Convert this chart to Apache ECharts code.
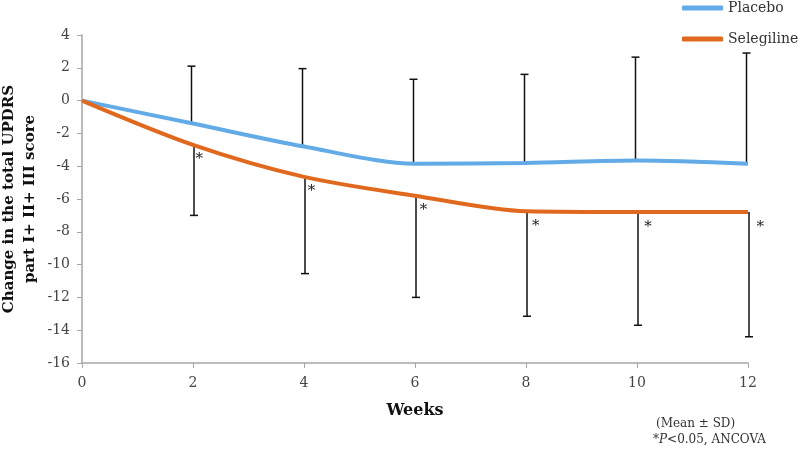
<!DOCTYPE html>
<html>
<head>
<meta charset="utf-8">
<script src="https://cdn.jsdelivr.net/npm/echarts@6/dist/echarts.min.js"></script>
<style>html,body{margin:0;padding:0;background:#fff}#c{width:800px;height:449px}</style>
</head>
<body>
<div id="c"></div>
<script>
const weeks = [0, 2, 4, 6, 8, 10, 12];
const placeboMean = [0, -1.4, -2.8, -3.85, -3.8, -3.65, -3.85];
const placeboSD = [0, 3.5, 4.75, 5.15, 5.4, 6.3, 6.75];
const selegilineMean = [0, -2.7, -4.65, -5.8, -6.75, -6.8, -6.8];
const selegilineSD = [0, 4.3, 5.9, 6.2, 6.4, 6.9, 7.6];
const significant = [false, true, true, true, true, true, true];
const seriesNames = ['Placebo', 'Selegiline'];
const colors = ['#62ABE6', '#E0691F'];
const FONT = '"DejaVu Serif", "Liberation Serif", serif';

const chart = echarts.init(document.getElementById('c'));

function errBar(meanArr, sdArr, dir, dx) {
  return {
    type: 'custom',
    silent: true,
    z: 1,
    data: weeks.map((w, i) => [w, meanArr[i], meanArr[i] + dir * sdArr[i]]).filter((d, i) => sdArr[i] > 0),
    renderItem: function (params, api) {
      const p0 = api.coord([api.value(0), api.value(1)]);
      const p1 = api.coord([api.value(0), api.value(2)]);
      const x = p0[0] + dx;
      return {
        type: 'group',
        children: [
          { type: 'line', shape: { x1: x, y1: p0[1], x2: x, y2: p1[1] }, style: { stroke: '#111', lineWidth: 1.5 } },
          { type: 'line', shape: { x1: x - 4, y1: p1[1], x2: x + 4, y2: p1[1] }, style: { stroke: '#111', lineWidth: 1.5 } }
        ]
      };
    }
  };
}

chart.setOption({
  animation: false,
  backgroundColor: '#fff',
  grid: { left: 82, right: 52, top: 35, bottom: 86, containLabel: false, outerBoundsMode: 'none' },
  legend: {
    orient: 'vertical',
    left: 682,
    top: 0,
    padding: 0,
    itemWidth: 41,
    itemHeight: 5,
    itemGap: 15,
    icon: 'roundRect',
    textStyle: { fontFamily: FONT, fontSize: 14, color: '#333', lineHeight: 16 },
    data: seriesNames
  },
  xAxis: {
    type: 'value',
    min: 0, max: 12, interval: 2,
    name: 'Weeks',
    nameLocation: 'middle',
    nameGap: 40,
    nameMoveOverlap: false,
    nameTextStyle: { fontFamily: FONT, fontSize: 16, fontWeight: 'bold', color: '#111' },
    axisLine: { onZero: false, lineStyle: { color: '#a6a6a6', width: 1.5 } },
    axisTick: { show: true, length: 5, lineStyle: { color: '#a6a6a6' } },
    axisLabel: { fontFamily: FONT, fontSize: 14, color: '#444', margin: 13 },
    splitLine: { show: false }
  },
  yAxis: {
    type: 'value',
    min: -16, max: 4, interval: 2,
    name: 'Change in the total UPDRS\npart I+ II+ III score',
    nameLocation: 'middle',
    nameGap: 41,
    nameRotate: 90,
    nameMoveOverlap: false,
    nameTextStyle: { fontFamily: FONT, fontSize: 15, fontWeight: 'bold', color: '#111', lineHeight: 21 },
    axisLine: { show: true, onZero: false, lineStyle: { color: '#a6a6a6', width: 1.5 } },
    axisTick: { show: true, length: 5, lineStyle: { color: '#a6a6a6' } },
    axisLabel: { fontFamily: FONT, fontSize: 14, color: '#444', margin: 12 },
    splitLine: { show: false }
  },
  graphic: [
    { type: 'text', left: 656, top: 418, style: { text: '(Mean ± SD)', font: '12px ' + FONT, fill: '#333' } },
    { type: 'text', left: 653, top: 434, style: { rich: { i: { fontStyle: 'italic', fontFamily: FONT, fontSize: 12, fill: '#333' }, n: { fontFamily: FONT, fontSize: 12, fill: '#333' } }, text: '{n|*}{i|P}{n|<0.05, ANCOVA}' } }
  ],
  series: [
    errBar(placeboMean, placeboSD, 1, -1.5),
    errBar(selegilineMean, selegilineSD, -1, 1),
    {
      name: 'Placebo', type: 'line', z: 3,
      data: weeks.map((w, i) => [w, placeboMean[i]]),
      smooth: 0.3, showSymbol: false,
      lineStyle: { color: colors[0], width: 4 },
      itemStyle: { color: colors[0] }
    },
    {
      name: 'Selegiline', type: 'line', z: 3,
      data: weeks.map((w, i) => [w, selegilineMean[i]]),
      smooth: 0.3, showSymbol: false,
      lineStyle: { color: colors[1], width: 4 },
      itemStyle: { color: colors[1] }
    },
    {
      type: 'custom', silent: true, z: 4,
      data: weeks.map((w, i) => [w, selegilineMean[i]]).filter((d, i) => significant[i]),
      renderItem: function (params, api) {
        const p = api.coord([api.value(0), api.value(1)]);
        const dx = 5 + api.value(0) * 0.6;
        return { type: 'text', x: p[0] + dx, y: p[1] + 7, style: { text: '*', font: '15px ' + FONT, fill: '#222', textAlign: 'center', textVerticalAlign: 'top' } };
      }
    }
  ]
});
</script>
</body>
</html>
